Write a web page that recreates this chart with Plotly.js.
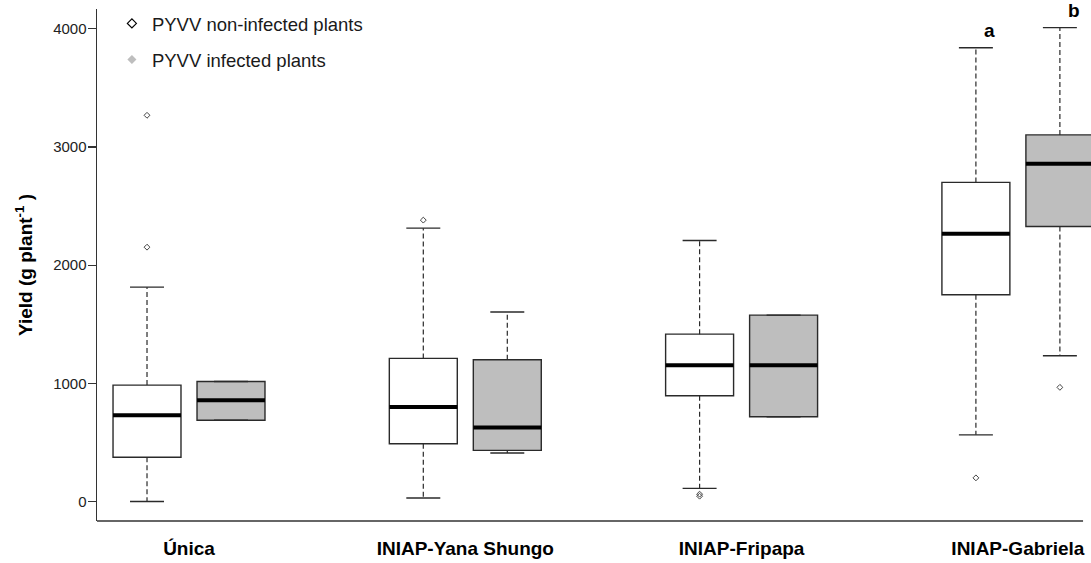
<!DOCTYPE html>
<html><head><meta charset="utf-8">
<script src="https://cdn.plot.ly/plotly-3.0.1.min.js"></script>
<style>html,body{margin:0;padding:0;background:#fff}#chart{width:1091px;height:563px}</style>
</head><body><div id="chart"></div>
<script>
// ---- data ----
const categories = ['Única', 'INIAP-Yana Shungo', 'INIAP-Fripapa', 'INIAP-Gabriela'];
const seriesNames = ['PYVV non-infected plants', 'PYVV infected plants'];

const nonInfLower  = [0, 30, 111, 564];
const nonInfQ1     = [374, 489, 895, 1750];
const nonInfMedian = [729, 799, 1154, 2266];
const nonInfQ3     = [985, 1211, 1416, 2700];
const nonInfUpper  = [1814, 2313, 2209, 3840];
const nonInfOutliers = [[2152, 3268], [2381], [45, 62], [200]];

const infLower  = [687, 410, 717, 1233];
const infQ1     = [687, 433, 717, 2327];
const infMedian = [856, 627, 1154, 2858];
const infQ3     = [1016, 1199, 1577, 3102];
const infUpper  = [1016, 1603, 1577, 4010];
const infOutliers = [[], [], [], [966]];

const letterCategory = 'INIAP-Gabriela';
const letters = ['a', 'b'];

const yTicks = [0, 1000, 2000, 3000, 4000];

// ---- layout helpers ----
const OFF = 0.152, W = 0.246, CAP = W / 4;
const FONT = 'Liberation Sans, Arial, sans-serif';
const groupPos = categories.map((c, i) => i + 1);

function series(sign, lower, q1, med, q3, upper, outl, fill) {
  const xs = groupPos.map(p => p + sign * OFF);
  const box = {
    type: 'box', x: xs, q1: q1, median: med, q3: q3,
    lowerfence: q1, upperfence: q3, width: W, whiskerwidth: 0,
    boxpoints: false, fillcolor: fill,
    line: {color: '#2a2a2a', width: 1.4}, showlegend: false, hoverinfo: 'skip'
  };
  const wx = [], wy = [], cx = [], cy = [], mx = [], my = [], ox = [], oy = [];
  xs.forEach((x, i) => {
    wx.push(x, x, null, x, x, null); wy.push(q3[i], upper[i], null, q1[i], lower[i], null);
    cx.push(x - CAP, x + CAP, null, x - CAP, x + CAP, null); cy.push(upper[i], upper[i], null, lower[i], lower[i], null);
    mx.push(x - W / 2, x + W / 2, null); my.push(med[i], med[i], null);
    outl[i].forEach(v => { ox.push(x); oy.push(v); });
  });
  return [
    box,
    {type: 'scatter', mode: 'lines', x: wx, y: wy, line: {color: '#2a2a2a', width: 1.2, dash: '5px,3px'}, showlegend: false, hoverinfo: 'skip'},
    {type: 'scatter', mode: 'lines', x: cx, y: cy, line: {color: '#2a2a2a', width: 1.4}, showlegend: false, hoverinfo: 'skip'},
    {type: 'scatter', mode: 'lines', x: mx, y: my, line: {color: '#000', width: 4}, showlegend: false, hoverinfo: 'skip'},
    {type: 'scatter', mode: 'markers', x: ox, y: oy, marker: {symbol: 'diamond-open', size: 4.5, color: '#444', line: {width: 1}}, showlegend: false, hoverinfo: 'skip'}
  ];
}

const traces = [].concat(
  series(-1, nonInfLower, nonInfQ1, nonInfMedian, nonInfQ3, nonInfUpper, nonInfOutliers, '#ffffff'),
  series(1, infLower, infQ1, infMedian, infQ3, infUpper, infOutliers, '#BEBEBE'),
  [
    {type: 'scatter', mode: 'markers', x: [null], y: [null], name: seriesNames[0], legendgroup: 'g1',
     marker: {symbol: 'diamond-open', size: 7, color: '#000', line: {width: 1.2}}},
    {type: 'scatter', mode: 'markers', x: [null], y: [null], name: seriesNames[1], legendgroup: 'g2',
     marker: {symbol: 'diamond', size: 7, color: '#BEBEBE'}}
  ]
);

const gi = categories.indexOf(letterCategory);
const annotations = [
  {x: groupPos[gi] - OFF, y: nonInfUpper[gi], text: letters[0]},
  {x: groupPos[gi] + OFF, y: infUpper[gi], text: letters[1]}
].map(a => Object.assign(a, {xref: 'x', yref: 'y', showarrow: false, xanchor: 'center', yanchor: 'bottom',
  xshift: 14, yshift: 5, font: {family: FONT, size: 19, color: '#000', weight: 'bold'}}));

const layout = {
  width: 1091, height: 563,
  margin: {l: 97, r: 0, t: 9, b: 42},
  paper_bgcolor: '#fff', plot_bgcolor: '#fff',
  showlegend: true,
  legend: {x: 0.015, xanchor: 'left', y: 1.008, yanchor: 'top', bgcolor: 'rgba(0,0,0,0)',
    font: {family: FONT, size: 18.5, color: '#1a1a1a'}, tracegroupgap: 9, itemsizing: 'trace'},
  xaxis: {range: [0.667, 4.2646], tickvals: groupPos, ticktext: categories, ticks: '',
    showgrid: false, zeroline: false, showline: false, ticklabelstandoff: 14,
    tickfont: {family: FONT, size: 19, color: '#000', weight: 'bold'}, fixedrange: true},
  yaxis: {range: [-165, 4167.5], tickvals: yTicks, ticks: 'outside', ticklen: 8, tickwidth: 1.2, tickcolor: '#333',
    showgrid: false, zeroline: false, showline: true, linecolor: '#333', linewidth: 1.5, ticklabelstandoff: -2,
    tickfont: {family: FONT, size: 15, color: '#222'}, automargin: true,
    title: {text: 'Yield (g plant<sup>-1</sup> )', standoff: 15, font: {family: FONT, size: 19, color: '#000', weight: 'bold'}}},
  shapes: [{type: 'line', xref: 'paper', yref: 'paper', x0: 0, x1: 0.992, y0: 0, y1: 0, line: {color: '#333', width: 1.5}}],
  annotations: annotations
};

Plotly.newPlot('chart', traces, layout, {staticPlot: true, displayModeBar: false});
</script>
</body></html>
